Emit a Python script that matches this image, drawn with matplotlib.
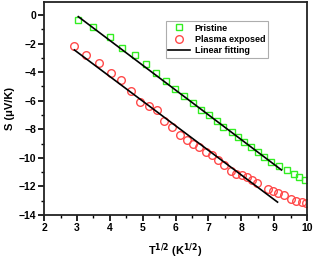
import matplotlib.pyplot as plt
import numpy as np
from matplotlib.ticker import MultipleLocator

plt.rcParams['font.family'] = ['Liberation Sans', 'DejaVu Sans']
plt.rcParams['font.weight'] = 'bold'

# Pristine (green squares)
x_pri = [3.04, 3.50, 3.99, 4.38, 4.77, 5.09, 5.40, 5.71, 5.98, 6.26, 6.52, 6.77,
         7.02, 7.25, 7.45, 7.70, 7.91, 8.08, 8.29, 8.50, 8.70, 8.90, 9.14, 9.38,
         9.60, 9.76, 9.93]
s_pri = [-0.35, -0.82, -1.54, -2.29, -2.80, -3.43, -4.04, -4.62, -5.18, -5.66, -6.18, -6.65,
         -7.00, -7.44, -7.84, -8.19, -8.51, -8.86, -9.22, -9.62, -9.91, -10.27, -10.57, -10.85,
         -11.15, -11.36, -11.55]

# Plasma exposed (red circles)
x_pla = [2.92, 3.28, 3.67, 4.03, 4.34, 4.64, 4.92, 5.18, 5.44, 5.66, 5.90, 6.12,
         6.34, 6.54, 6.72, 6.92, 7.12, 7.30, 7.48, 7.68, 7.84, 8.01, 8.18, 8.31,
         8.48, 8.80, 8.97, 9.12, 9.29, 9.50, 9.66, 9.83, 9.96]
s_pla = [-2.17, -2.80, -3.34, -4.04, -4.55, -5.30, -6.07, -6.35, -6.65, -7.39, -7.84, -8.40,
         -8.77, -9.03, -9.21, -9.56, -9.80, -10.15, -10.50, -10.90, -11.13, -11.20, -11.31, -11.55,
         -11.78, -12.20, -12.32, -12.48, -12.60, -12.88, -13.00, -13.07, -13.18]

# linear fits (end points)
fit_pri_x = [3.04, 9.22]
fit_pri_y = [-0.12, -10.85]
fit_pla_x = [2.92, 9.10]
fit_pla_y = [-2.45, -13.10]

fig = plt.figure(figsize=(3.15, 2.59), dpi=100)
ax = fig.add_axes([0.140, 0.170, 0.835, 0.822])

ax.plot(x_pri, s_pri, 's', ms=5, mfc='none', mec='#33ee22', mew=1.0, label='Pristine')
ax.plot(x_pla, s_pla, 'o', ms=5.5, mfc='none', mec='#ff4a4a', mew=1.0, label='Plasma exposed')
ax.plot(fit_pri_x, fit_pri_y, '-k', lw=1.2, label='Linear fitting')
ax.plot(fit_pla_x, fit_pla_y, '-k', lw=1.2)

ax.set_xlim(2, 10)
ax.set_ylim(-14, 0.9)
ax.xaxis.set_major_locator(MultipleLocator(1))
ax.xaxis.set_minor_locator(MultipleLocator(0.5))
ax.yaxis.set_major_locator(MultipleLocator(2))
ax.yaxis.set_minor_locator(MultipleLocator(1))
ax.tick_params(which='major', direction='out', length=4, width=1.2, labelsize=7.5, pad=1.5)
ax.tick_params(which='minor', direction='out', length=2.5, width=1)
for sp in ax.spines.values():
    sp.set_linewidth(1.3)
    sp.set_color('#222222')

ax.set_xlabel('T$^{1/2}$ (K$^{1/2}$)', fontsize=8, fontweight='bold', labelpad=6)
ax.set_ylabel('S (\u03bcV/K)', fontsize=8, fontweight='bold', labelpad=3)

leg = ax.legend(loc='upper left', bbox_to_anchor=(0.462, 0.912), fontsize=6.5,
                frameon=True, fancybox=False, edgecolor='#999999', handlelength=2.4,
                handletextpad=0.5, borderpad=0.3, labelspacing=0.25, borderaxespad=0)
leg.get_frame().set_linewidth(0.8)
for t in leg.get_texts():
    t.set_fontweight('bold')

fig.savefig('out.png', dpi=100)
